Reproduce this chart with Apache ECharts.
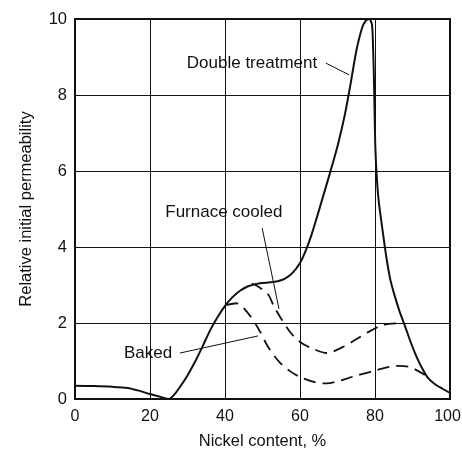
<!DOCTYPE html>
<html>
<head>
<meta charset="utf-8">
<script src="https://cdn.jsdelivr.net/npm/echarts@6/dist/echarts.min.js"></script>
<style>
  html, body { margin: 0; padding: 0; background: #fff; }
  #chart { width: 462px; height: 450px; }
</style>
</head>
<body>
<div id="chart"></div>
<script>
var xTicks = [0, 20, 40, 60, 80, 100];
var yTicks = [0, 2, 4, 6, 8, 10];

// solid curve
var doubleTreatment = [
    [0, 0.35], [5, 0.34], [10, 0.32], [14, 0.29], [17, 0.22], [20, 0.13], [23, 0.05],
    [25, 0], [26.5, 0.12], [28, 0.32], [30, 0.62], [32, 0.98], [34, 1.38], [36, 1.8],
    [38, 2.15], [40, 2.45], [42, 2.68], [44, 2.85], [46, 2.96], [48, 3.02], [50, 3.05],
    [52, 3.07], [54, 3.1], [56, 3.17], [58, 3.32], [60, 3.58], [61.5, 3.9], [63, 4.3],
    [64.5, 4.78], [66, 5.28], [68, 5.95], [70, 6.65], [72, 7.5], [73.5, 8.3], [75, 9.15],
    [76.5, 9.75], [77.5, 9.95], [78.5, 10], [79.2, 9.85], [79.5, 9.2], [79.7, 8.5],
    [79.9, 7.5], [80.1, 6.6], [80.5, 5.8], [81, 5.2], [82, 4.45], [83, 3.75], [84, 3.18],
    [85, 2.8], [86.5, 2.32], [88, 1.92], [89.5, 1.5], [91, 1.13], [92.5, 0.82],
    [94, 0.57], [96, 0.39], [98, 0.27], [100, 0.16]
];
// dashed curves
var furnaceCooled = [
    [47.1, 3.04], [49, 2.95], [51.5, 2.75], [53, 2.45], [54.7, 2.16], [57.3, 1.77],
    [60, 1.5], [63.5, 1.32], [67.2, 1.21], [71.5, 1.37], [75, 1.57], [77.8, 1.74],
    [82.2, 1.95], [87.5, 2.0]
];
var baked = [
    [40.4, 2.47], [43.1, 2.52], [45.8, 2.3], [48.8, 1.87], [51.5, 1.37], [54.7, 0.95],
    [57.5, 0.72], [60, 0.58], [64.4, 0.43], [67.1, 0.41], [70.5, 0.48], [74.2, 0.59],
    [80.4, 0.76], [85.8, 0.87], [89.3, 0.84], [93.3, 0.63]
];

// labels and leader lines, in data units
var labelNames = ['Double treatment', 'Furnace cooled', 'Baked'];
var labelAt = [[47.2, 8.84], [39.7, 4.92], [19.5, 1.21]];
var leaders = [
    [[66.9, 8.84], [73.1, 8.53]],
    [[49.9, 4.5], [54.4, 2.37]],
    [[28, 1.21], [48.8, 1.66]]
];

var ink = '#111';
var font = 'Liberation Sans, Arial, sans-serif';

var chart = echarts.init(document.getElementById('chart'));

var option = {
    backgroundColor: '#fff',
    animation: false,
    grid: {
        left: 75, right: 12, top: 19, bottom: 51,
        outerBoundsMode: 'none', containLabel: false,
        show: true, borderColor: ink, borderWidth: 2
    },
    xAxis: {
        type: 'value', min: 0, max: 100, interval: 20,
        name: 'Nickel content, %', nameLocation: 'middle', nameGap: 34,
        nameTextStyle: { color: ink, fontSize: 16.5, fontFamily: font },
        axisLine: { show: true, lineStyle: { color: ink, width: 2 } },
        axisTick: { show: false },
        axisLabel: {
            color: ink, fontSize: 16, fontFamily: font, margin: 10,
            // last label sits at the edge, nudge it in a little
            formatter: function (v) {
                return v === xTicks[xTicks.length - 1] ? '{last|' + v + '}' : String(v);
            },
            rich: {
                last: { color: ink, fontSize: 16, fontFamily: font, padding: [0, 5, 0, 0] }
            }
        },
        splitLine: { show: true, lineStyle: { color: ink, width: 1 } }
    },
    yAxis: {
        type: 'value', min: 0, max: 10, interval: 2,
        name: 'Relative initial permeability', nameLocation: 'middle', nameGap: 40,
        nameTextStyle: { color: ink, fontSize: 16.5, fontFamily: font },
        axisLine: { show: true, lineStyle: { color: ink, width: 2 } },
        axisTick: { show: false },
        axisLabel: { color: ink, fontSize: 16.5, fontFamily: font, margin: 8 },
        splitLine: { show: true, lineStyle: { color: ink, width: 1 } }
    },
    series: [{
        name: 'Double treatment',
        type: 'line',
        data: doubleTreatment,
        smooth: 0.25,
        symbol: 'none',
        lineStyle: { color: ink, width: 2 },
        markLine: {
            silent: true, symbol: 'none',
            lineStyle: { color: ink, width: 1, type: 'solid' },
            label: { show: false },
            data: leaders.map(function (l) {
                return [{ coord: l[0] }, { coord: l[1] }];
            })
        },
        markPoint: {
            silent: true, symbol: 'circle', symbolSize: 0,
            label: {
                show: true, position: 'inside', color: ink,
                fontSize: 17, fontFamily: font
            },
            data: labelNames.map(function (n, i) {
                return { coord: labelAt[i], value: n, label: { formatter: n } };
            })
        }
    }, {
        name: 'Furnace cooled',
        type: 'line',
        data: furnaceCooled,
        smooth: 0.3,
        symbol: 'none',
        lineStyle: { color: ink, width: 1.8, type: [12, 7] }
    }, {
        name: 'Baked',
        type: 'line',
        data: baked,
        smooth: 0.3,
        symbol: 'none',
        lineStyle: { color: ink, width: 1.8, type: [12, 7] }
    }]
};

chart.setOption(option);
</script>
</body>
</html>
